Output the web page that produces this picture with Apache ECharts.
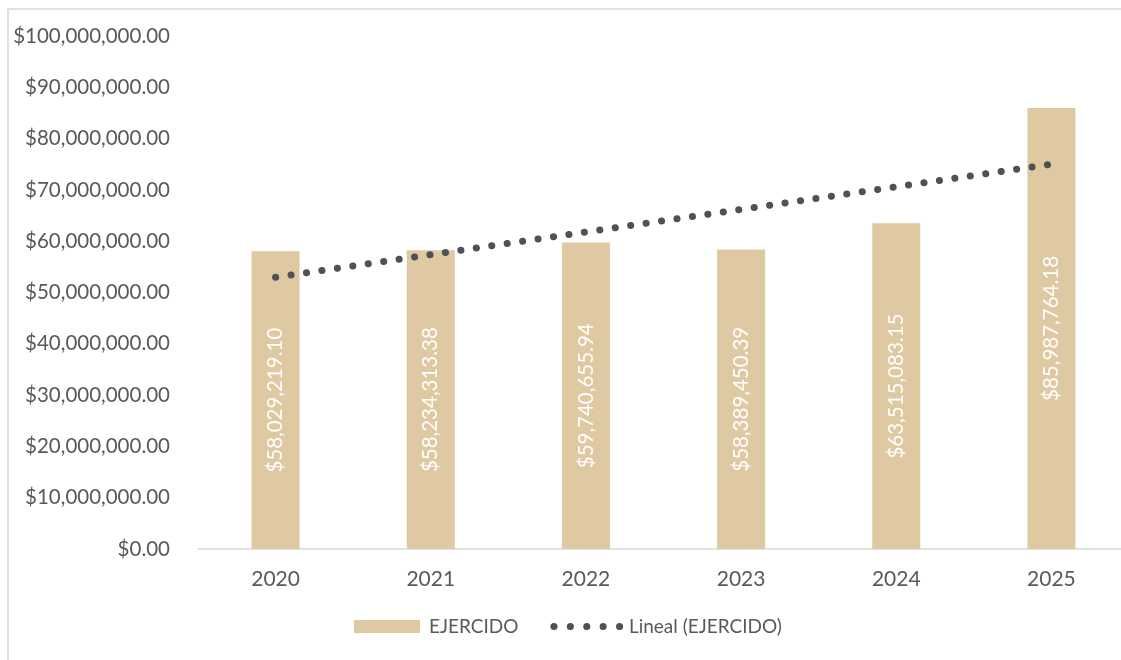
<!DOCTYPE html>
<html>
<head>
<meta charset="utf-8">
<script src="https://cdn.jsdelivr.net/npm/echarts@6/dist/echarts.min.js"></script>
<style>
html,body{margin:0;padding:0;background:#fff;}
#chart{width:1121px;height:660px;}
</style>
</head>
<body>
<div id="chart"></div>
<script>
const categories = ['2020', '2021', '2022', '2023', '2024', '2025'];
const ejercido = [58029219.10, 58234313.38, 59740655.94, 58389450.39, 63515083.15, 85987764.18];
const lineal = [52960000, 57370000, 61780000, 66190000, 70590000, 75000000];
const yMin = 0, yMax = 100000000, yStep = 10000000;

const fmt = v => '$' + Number(v).toLocaleString('en-US', {minimumFractionDigits: 2, maximumFractionDigits: 2});
const FONT = 'Lato';
const GRAY = '#595959';
const DOT = '#505156';
const dotLine = {color: DOT, width: 7, type: [0.1, 15.5], cap: 'round'};

const chart = echarts.init(document.getElementById('chart'), null, {renderer: 'canvas'});
chart.setOption({
  animation: false,
  textStyle: {fontFamily: FONT},
  graphic: [{
    type: 'rect',
    shape: {x: 8, y: 9, width: 1300, height: 800},
    style: {fill: 'none', stroke: '#d9d9d9', lineWidth: 1.5},
    silent: true
  }],
  grid: {left: 198, top: 36, width: 931, height: 513, containLabel: false, outerBoundsMode: 'none'},
  legend: {
    left: 349, top: 612,
    itemWidth: 66, itemHeight: 13, itemGap: 32,
    textStyle: {color: GRAY, fontSize: 19, fontFamily: FONT, padding: [0, 0, 0, 4]},
    data: [
      {name: 'EJERCIDO', icon: 'rect'},
      {name: 'Lineal (EJERCIDO)', itemStyle: {opacity: 0},
       lineStyle: {color: DOT, width: 7, type: [0.1, 16.3], cap: 'round'}}
    ]
  },
  xAxis: {
    type: 'category', data: categories, boundaryGap: true,
    axisLine: {lineStyle: {color: '#d9d9d9', width: 1.5}},
    axisTick: {show: false},
    axisLabel: {color: GRAY, fontSize: 21, margin: 20, fontFamily: FONT}
  },
  yAxis: {
    type: 'value', min: yMin, max: yMax, interval: yStep,
    axisLine: {show: false}, axisTick: {show: false},
    splitLine: {show: false},
    axisLabel: {color: GRAY, fontSize: 20.5, margin: 28, fontFamily: FONT, formatter: fmt}
  },
  series: [{
    name: 'EJERCIDO', type: 'bar', data: ejercido, barWidth: 48,
    itemStyle: {color: '#DEC9A2'},
    label: {show: true, position: 'inside', rotate: 90, color: '#ffffff', fontSize: 20.5, fontFamily: FONT, formatter: p => fmt(p.value)}
  }, {
    name: 'Lineal (EJERCIDO)', type: 'line', data: lineal,
    symbol: 'none', showSymbol: false,
    lineStyle: dotLine,
    itemStyle: {color: DOT},
    z: 5
  }]
});
</script>
</body>
</html>
